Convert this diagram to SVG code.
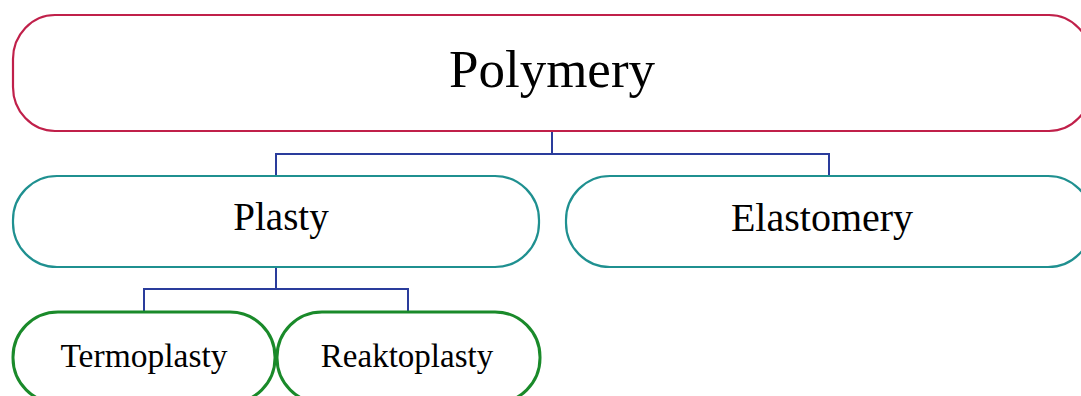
<svg xmlns="http://www.w3.org/2000/svg" width="1081" height="396" viewBox="0 0 1081 396">
<style>
.t{font-family:"Liberation Serif","Times New Roman",serif;fill:#000;text-anchor:middle}
.root{fill:#fff;stroke:#c0204a;stroke-width:2.2}
.mid{fill:#fff;stroke:#1f9090;stroke-width:2.2}
.leaf{fill:#fff;stroke:#1a8a2a;stroke-width:3}
.c{fill:none;stroke:#2a3c9c;stroke-width:2}
</style>
<rect width="1081" height="396" fill="#fff"/>
<g id="connectors">
<polyline class="c" points="552,131 552,154"/>
<polyline class="c" points="276,176 276,154 829,154 829,176"/>
<polyline class="c" points="276,267 276,289"/>
<polyline class="c" points="144,312 144,289 408,289 408,312"/>
</g>
<g id="polymery">
<rect class="root" x="13" y="15" width="1078" height="116" rx="42" ry="44"/>
<text class="t" x="552" y="87" font-size="53">Polymery</text>
</g>
<g id="plasty">
<rect class="mid" x="13" y="176" width="526" height="91" rx="44" ry="44"/>
<text class="t" x="281" y="230" font-size="39">Plasty</text>
</g>
<g id="elastomery">
<rect class="mid" x="566" y="176" width="526" height="91" rx="44" ry="44"/>
<text class="t" x="822" y="231" font-size="40">Elastomery</text>
</g>
<g id="termoplasty">
<rect class="leaf" x="13" y="312" width="262" height="91" rx="45" ry="45"/>
<text class="t" x="144" y="367" font-size="33.5">Termoplasty</text>
</g>
<g id="reaktoplasty">
<rect class="leaf" x="277" y="312" width="263" height="91" rx="45" ry="45"/>
<text class="t" x="407" y="367" font-size="33">Reaktoplasty</text>
</g>
</svg>
